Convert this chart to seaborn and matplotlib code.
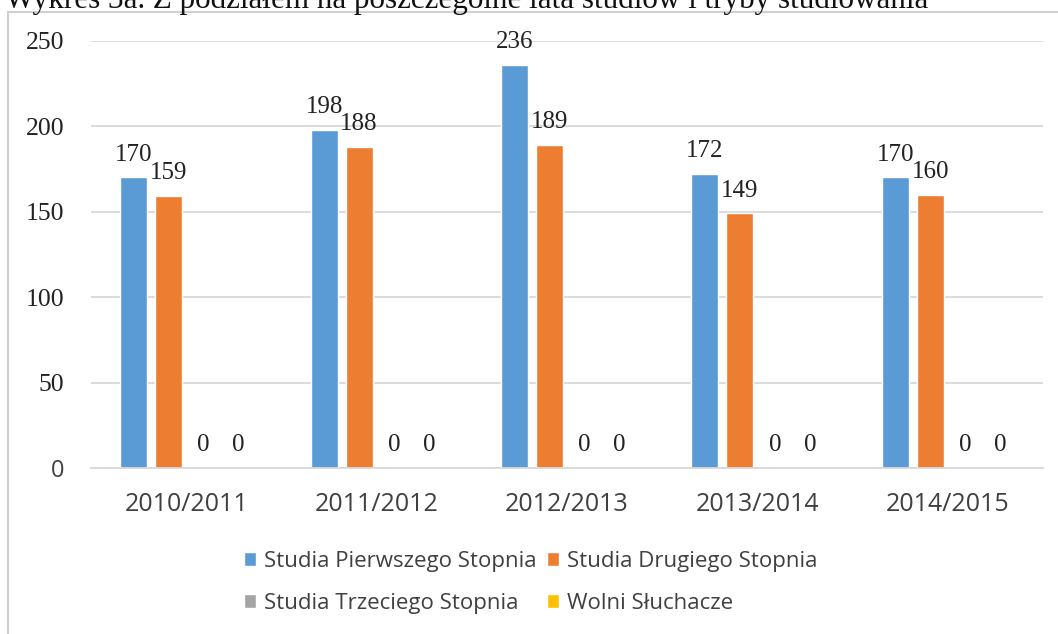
import matplotlib
matplotlib.use("Agg")
import matplotlib.pyplot as plt
import seaborn as sns
import pandas as pd
from matplotlib.patches import Rectangle

years = ["2010/2011", "2011/2012", "2012/2013", "2013/2014", "2014/2015"]
series_names = ["Studia Pierwszego Stopnia", "Studia Drugiego Stopnia",
                "Studia Trzeciego Stopnia", "Wolni Słuchacze"]
pierwszego = [170, 198, 236, 172, 170]
drugiego = [159, 188, 189, 149, 160]
trzeciego = [0, 0, 0, 0, 0]
wolni = [0, 0, 0, 0, 0]
yticks = [0, 50, 100, 150, 200, 250]
title_text = "Wykres 3a. Z podziałem na poszczególne lata studiów i tryby studiowania"
colors = ["#5B9BD5", "#ED7D31", "#A5A5A5", "#FFC000"]

rows = []
for name, vals in zip(series_names, [pierwszego, drugiego, trzeciego, wolni]):
    for y, v in zip(years, vals):
        rows.append({"rok": y, "seria": name, "liczba": v})
df = pd.DataFrame(rows)

sns.set_theme(style="white")
SERIF = ["Liberation Serif", "DejaVu Serif"]
SANS = ["Open Sans", "DejaVu Sans"]

W, H = 1058, 634
fig = plt.figure(figsize=(W / 100, H / 100), dpi=100)
ax = fig.add_axes([91 / W, 1 - 468 / H, (1043 - 91) / W, (468 - 40.7) / H])

sns.barplot(data=df, x="rok", y="liczba", hue="seria", palette=colors,
            width=0.735, gap=0.23, ax=ax, errorbar=None, saturation=1,
            legend=True)

ax.set_ylim(0, 250)
ax.set_yticks(yticks)
ax.set_xlim(-0.5, len(years) - 0.5)
ax.grid(axis="y", color="#d9d9d9", linewidth=1.3)
ax.set_axisbelow(True)
for s in ["top", "right", "left"]:
    ax.spines[s].set_visible(False)
ax.spines["bottom"].set_color("#d9d9d9")
ax.spines["bottom"].set_linewidth(1.3)
ax.set_xlabel("")
ax.set_ylabel("")
ax.tick_params(axis="both", length=0)
ax.tick_params(axis="y", pad=19)
ax.tick_params(axis="x", pad=17)

for lab in ax.get_xticklabels():
    lab.set_fontfamily(SANS)
    lab.set_fontsize(18)
    lab.set_color("#404040")
ax.set_yticklabels([str(t) for t in yticks])
for lab in ax.get_yticklabels():
    if lab.get_text() == "0":
        lab.set_fontfamily(SANS)
        lab.set_color("#404040")
        lab.set_fontsize(17)
    else:
        lab.set_fontfamily(SERIF)
        lab.set_color("#222222")
        lab.set_fontsize(18.5)

for cont in ax.containers:
    ax.bar_label(cont, padding=8.5, fontsize=18, family=SERIF, color="#222222")

handles, labels = ax.get_legend_handles_labels()
order = [0, 2, 1, 3]
leg = ax.legend([handles[i] for i in order], [labels[i] for i in order],
                loc="upper center", bbox_to_anchor=(0.462, -0.147), ncol=2,
                frameon=False, prop={"family": SANS, "size": 16},
                handlelength=0.55, handleheight=0.55, handletextpad=0.35,
                columnspacing=0.45, labelspacing=0.94)
for t in leg.get_texts():
    t.set_color("#404040")

fig.patches.append(Rectangle((8 / W, -0.1), 1.2, 1 - 12 / H + 0.1,
                             transform=fig.transFigure, fill=False,
                             edgecolor="#d0d0d0", linewidth=1.5))
fig.text(5 / W, 1 - 8 / H, title_text, family=SERIF, fontsize=22.4,
         va="baseline", ha="left", color="#111111")

fig.savefig("out.png", dpi=100)
